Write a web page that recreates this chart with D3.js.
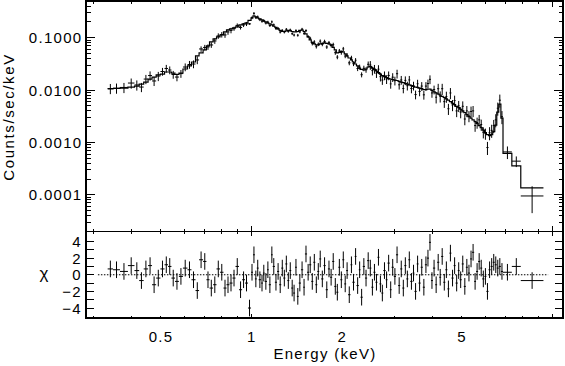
<!DOCTYPE html>
<html>
<head>
<meta charset="utf-8">
<script src="https://cdn.jsdelivr.net/npm/d3@7"></script>
<style>
body { margin: 0; background: #fff; }
text { font-family: "Liberation Sans", Arial, sans-serif; font-size: 15px; fill: #000; letter-spacing: 1.3px; }
</style>
</head>
<body>
<script>
// energy bin edges (keV), one more than the number of bins
var binEdges = [0.334, 0.348, 0.367, 0.390, 0.410, 0.425, 0.440, 0.455, 0.469, 0.484,
  0.500, 0.516, 0.530, 0.544, 0.559, 0.576, 0.594, 0.615, 0.634, 0.654,
  0.672, 0.693, 0.711, 0.728, 0.748, 0.768, 0.789, 0.810, 0.829, 0.848,
  0.868, 0.888, 0.912, 0.934, 0.955, 0.977,
  1.000, 1.015, 1.030, 1.045, 1.060, 1.080, 1.095, 1.110, 1.130, 1.145,
  1.165, 1.180, 1.200, 1.220, 1.240, 1.260, 1.280, 1.300, 1.320, 1.340,
  1.360, 1.380, 1.400, 1.420, 1.440, 1.465, 1.490, 1.510, 1.535, 1.560,
  1.585, 1.610, 1.635, 1.660, 1.685, 1.710, 1.740, 1.770, 1.800, 1.830,
  1.860, 1.890, 1.920, 1.950, 1.980, 2.010, 2.040, 2.070, 2.100, 2.140,
  2.170, 2.210, 2.240, 2.280, 2.310, 2.350, 2.390, 2.430, 2.470, 2.510,
  2.550, 2.590, 2.630, 2.670, 2.710, 2.750, 2.800, 2.840, 2.890, 2.930,
  2.980, 3.030, 3.080, 3.130, 3.180, 3.230, 3.280, 3.330, 3.380, 3.440,
  3.490, 3.550, 3.600, 3.660, 3.720, 3.780, 3.840, 3.900, 3.960, 4.020,
  4.090, 4.150, 4.220, 4.280, 4.350, 4.420, 4.490, 4.560, 4.630, 4.710,
  4.780, 4.860, 4.930, 5.010, 5.090, 5.170, 5.250, 5.340, 5.420, 5.510,
  5.590, 5.680, 5.770, 5.860, 5.960, 6.050, 6.150, 6.250, 6.350, 6.450,
  6.550, 6.650, 6.760, 6.870,
  7.35, 7.87, 9.36];

// observed count rate (counts/sec/keV) per bin
var rate = [0.0107, 0.0109, 0.0112, 0.0136, 0.0125, 0.0114, 0.0162, 0.0189, 0.0149, 0.0185,
  0.0226, 0.0258, 0.0241, 0.0198, 0.0177, 0.0206, 0.0275, 0.0307, 0.0314, 0.0375,
  0.0608, 0.0650, 0.0664, 0.0725, 0.0865, 0.1078, 0.1140, 0.1126, 0.1285, 0.1373,
  0.1480, 0.1711, 0.1567, 0.1749, 0.1828, 0.1830,
  0.240, 0.290, 0.241, 0.249, 0.220, 0.205, 0.211, 0.190, 0.198, 0.170,
  0.200, 0.175, 0.149, 0.150, 0.128, 0.137, 0.128, 0.144, 0.132, 0.140,
  0.119, 0.112, 0.136, 0.111, 0.129, 0.145, 0.120, 0.136, 0.105, 0.097,
  0.0771, 0.0826, 0.0673, 0.0748, 0.0855, 0.0744, 0.0845, 0.0663, 0.0800, 0.0708,
  0.0733, 0.0517, 0.0425, 0.0558, 0.0519, 0.0610, 0.0445, 0.0465, 0.0330, 0.0410,
  0.0318, 0.0370, 0.0258, 0.0275, 0.0196, 0.0260, 0.0243, 0.0310, 0.0300, 0.0235,
  0.0253, 0.0210, 0.0250, 0.0180, 0.0155, 0.0190, 0.0161, 0.0190, 0.0131, 0.0176,
  0.0151, 0.0205, 0.0126, 0.0156, 0.0107, 0.0153, 0.0121, 0.0156, 0.0107, 0.0121,
  0.0082, 0.0132, 0.0094, 0.0119, 0.0081, 0.0119, 0.0133, 0.0160, 0.0088, 0.0102,
  0.0073, 0.0106, 0.0076, 0.0106, 0.0060, 0.0075, 0.0044, 0.0088, 0.0052, 0.0063,
  0.0040, 0.0050, 0.0038, 0.0049, 0.0028, 0.0040, 0.0032, 0.0039, 0.0040, 0.0021,
  0.0024, 0.0027, 0.0022, 0.00157, 0.00148, 0.00080, 0.00153, 0.00170, 0.0021, 0.0027,
  0.0045, 0.0064, 0.0031,
  0.00066, 0.00044, 0.0000953];

// folded model per bin
var model = [0.0105, 0.0107, 0.0109, 0.0114, 0.0119, 0.0130, 0.0142, 0.0162, 0.0177, 0.0194,
  0.0202, 0.0221, 0.0221, 0.0211, 0.0198, 0.0211, 0.0252, 0.0288, 0.0343, 0.0447,
  0.0510, 0.0582, 0.0694, 0.0828, 0.0944, 0.1031, 0.1126, 0.1285, 0.1404, 0.1466,
  0.1533, 0.1602, 0.1749, 0.1828, 0.1910, 0.2133,
  0.238, 0.260, 0.249, 0.238, 0.228, 0.218, 0.209, 0.200, 0.191, 0.183,
  0.175, 0.165, 0.157, 0.147, 0.137, 0.131, 0.131, 0.134, 0.137, 0.136,
  0.131, 0.129, 0.129, 0.131, 0.137, 0.140, 0.131, 0.118, 0.103, 0.0904,
  0.0810, 0.0758, 0.0725, 0.0725, 0.0758, 0.0775, 0.0792, 0.0775, 0.0758, 0.0725,
  0.0650, 0.0582, 0.0510, 0.0521, 0.0545, 0.0533, 0.0488, 0.0447, 0.0409, 0.0375,
  0.0343, 0.0314, 0.0288, 0.0263, 0.0247, 0.0241, 0.0252, 0.0275, 0.0281, 0.0263,
  0.0247, 0.0231, 0.0216, 0.0202, 0.0189, 0.0181, 0.0173, 0.0166, 0.0162, 0.0159,
  0.0155, 0.0152, 0.0147, 0.0142, 0.0138, 0.0133, 0.0130, 0.0125, 0.0121, 0.0118,
  0.0114, 0.0112, 0.0109, 0.0106, 0.0102, 0.0102, 0.0104, 0.0104, 0.0098, 0.0092,
  0.0088, 0.0084, 0.0080, 0.0076, 0.0072, 0.0068, 0.0064, 0.0060, 0.0056, 0.0053,
  0.0049, 0.0046, 0.0043, 0.0040, 0.0037, 0.0034, 0.0031, 0.0029, 0.0027, 0.0025,
  0.0023, 0.0021, 0.00192, 0.00172, 0.00154, 0.00141, 0.00135, 0.00141, 0.00161, 0.00214,
  0.0038, 0.0054, 0.0029,
  0.00062, 0.000357, 0.000136];

// 1-sigma error as a fraction of the rate
var relErr = [0.22, 0.22, 0.22, 0.22, 0.22, 0.20, 0.20, 0.20, 0.20, 0.20,
  0.17, 0.17, 0.17, 0.17, 0.17, 0.17, 0.17, 0.17, 0.17, 0.17,
  0.12, 0.12, 0.12, 0.12, 0.12, 0.12, 0.12, 0.12, 0.12, 0.12,
  0.09, 0.09, 0.09, 0.09, 0.09, 0.04,
  0.06, 0.06, 0.06, 0.06, 0.06, 0.06, 0.06, 0.06, 0.06, 0.06,
  0.06, 0.06, 0.06, 0.06, 0.06, 0.06, 0.06, 0.06, 0.06, 0.06,
  0.06, 0.06, 0.06, 0.06, 0.06, 0.06, 0.06, 0.06, 0.06, 0.07,
  0.08, 0.08, 0.08, 0.08, 0.08, 0.08, 0.08, 0.08, 0.08, 0.08,
  0.09, 0.09, 0.09, 0.09, 0.09, 0.09, 0.09, 0.09, 0.10, 0.10,
  0.10, 0.10, 0.11, 0.11, 0.11, 0.12, 0.12, 0.13, 0.19, 0.19,
  0.19, 0.19, 0.19, 0.19, 0.19, 0.19, 0.19, 0.19, 0.19, 0.19,
  0.19, 0.19, 0.19, 0.19, 0.19, 0.19, 0.19, 0.19, 0.19, 0.19,
  0.19, 0.19, 0.19, 0.19, 0.19, 0.19, 0.19, 0.19, 0.19, 0.19,
  0.24, 0.24, 0.24, 0.24, 0.24, 0.24, 0.24, 0.24, 0.24, 0.24,
  0.24, 0.24, 0.24, 0.24, 0.24, 0.24, 0.24, 0.24, 0.24, 0.24,
  0.24, 0.24, 0.24, 0.24, 0.24, 0.28, 0.28, 0.28, 0.28, 0.28,
  0.28, 0.28, 0.28,
  0.27, 0.23, 0.53];

// residuals (data - model) / sigma
var chi = [0.7, 0.6, 0.4, 1.1, 0.5, -0.7, 0.7, 1.1, -1.2, -0.4,
  0.7, 1.2, 1.0, -0.4, -0.8, -0.2, 0.8, 0.6, -0.6, -1.9,
  1.8, 1.6, -0.6, -1.6, -1.2, 0.7, 0.3, -1.6, -1.2, -1.0,
  -0.4, 1.0, -1.8, -0.6, -1.0, -4.0,
  0.3, 2.4, -0.5, 0.8, -0.6, -1.0, 0.2, -0.8, 0.6, -1.2,
  2.4, 1.0, -0.9, 0.4, -1.2, 0.8, -0.4, 1.3, -0.7, 0.5,
  -1.6, -2.2, 0.9, -2.6, -1.0, 0.6, -1.5, 2.5, 0.3, 1.2,
  -0.8, 1.5, -1.2, 0.4, 1.9, -0.5, 1.1, -1.8, 0.7, -0.3,
  1.6, -1.4, -2.1, 0.9, -0.6, 1.8, -1.1, 0.5, -2.4, 1.2,
  -0.9, 2.2, -1.3, 0.6, -2.7, 1.0, -0.4, 1.7, 0.8, -1.5,
  0.3, -0.9, 2.1, -1.1, -2.2, 0.5, -0.6, 1.4, -1.8, 0.9,
  -0.2, 2.4, -1.3, 0.7, -1.6, 1.1, -0.5, 1.8, -0.8, 0.2,
  -2.0, 1.3, -1.0, 0.9, -1.5, 1.2, 2.0, 3.9, -0.7, 0.8,
  -1.2, 1.5, -0.3, 2.2, -0.9, 0.6, -1.7, 2.6, -0.4, 1.1,
  -1.0, 0.5, -0.6, 1.3, -1.4, 0.9, 0.2, 1.9, 2.7, -0.8,
  0.4, 1.6, 0.8, -0.5, -0.2, -2.0, 0.6, 1.0, 1.5, 1.2,
  0.8, 1.0, 0.4,
  0.3, 1.0, -0.7];

// axis ticks
var xMinorTicks = [0.3, 0.4, 0.5, 0.6, 0.7, 0.8, 0.9, 2, 3, 4, 5, 6, 7, 8, 9];
var xMajorTicks = [1, 10];
var xLabelTicks = [0.5, 1, 2, 5];
var yMajorTicks = [0.0001, 0.001, 0.01, 0.1];
var yTickLabels = ["0.0001", "0.0010", "0.0100", "0.1000"];
var chiTicks = [-4, -3, -2, -1, 0, 1, 2, 3, 4];
var chiLabelTicks = [-4, -2, 0, 2, 4];

var W = 565, H = 366;
var plotLeft = 86, plotRight = 563, plotTop = 1, plotMid = 231.5, plotBottom = 318;

var svg = d3.select("body").append("svg")
    .attr("width", W)
    .attr("height", H);

var x = d3.scaleLog().domain([0.283, 10.87]).range([plotLeft, plotRight]);
var y = d3.scaleLog().domain([2e-5, 0.5]).range([plotMid, plotTop]);
var yChi = d3.scaleLinear().domain([-5.2, 5.2]).range([plotBottom, plotMid]);

var n = Math.min(binEdges.length - 1, rate.length, model.length, relErr.length, chi.length);
var bins = d3.range(n).map(function (i) {
    return {
        lo: binEdges[i], hi: binEdges[i + 1],
        mid: Math.sqrt(binEdges[i] * binEdges[i + 1]),
        rate: rate[i], model: model[i], sig: rate[i] * relErr[i], chi: chi[i]
    };
});

// clip regions for the two panels
var defs = svg.append("defs");
defs.append("clipPath").attr("id", "clipTop").append("rect")
    .attr("x", plotLeft).attr("y", plotTop)
    .attr("width", plotRight - plotLeft).attr("height", plotMid - plotTop);
defs.append("clipPath").attr("id", "clipBot").append("rect")
    .attr("x", plotLeft).attr("y", plotMid)
    .attr("width", plotRight - plotLeft).attr("height", plotBottom - plotMid);

// ---- top panel: model steps + data crosses ----
var gTop = svg.append("g").attr("clip-path", "url(#clipTop)");

var stepPts = bins.map(d => [d.lo, d.model]);
stepPts.push([bins[n - 1].hi, bins[n - 1].model]);
gTop.append("path")
    .datum(stepPts)
    .attr("fill", "none")
    .attr("stroke", "#000")
    .attr("stroke-width", 1.2)
    .attr("d", d3.line().x(d => x(d[0])).y(d => y(d[1])).curve(d3.curveStepAfter));

gTop.selectAll(".hbar")
    .data(bins)
    .enter().append("line")
    .attr("class", "hbar")
    .attr("x1", d => x(d.lo)).attr("x2", d => x(d.hi))
    .attr("y1", d => y(d.rate)).attr("y2", d => y(d.rate))
    .attr("stroke", "#000").attr("stroke-width", 1);

gTop.selectAll(".vbar")
    .data(bins)
    .enter().append("line")
    .attr("class", "vbar")
    .attr("x1", d => x(d.mid)).attr("x2", d => x(d.mid))
    .attr("y1", d => y(Math.max(d.rate - d.sig, 2e-5)))
    .attr("y2", d => y(d.rate + d.sig))
    .attr("stroke", "#000").attr("stroke-width", 1);

// ---- bottom panel: residuals ----
var gBot = svg.append("g").attr("clip-path", "url(#clipBot)");

gBot.append("line")
    .attr("x1", x(0.31)).attr("x2", x(9.7))
    .attr("y1", yChi(0)).attr("y2", yChi(0))
    .attr("stroke", "#000").attr("stroke-width", 1)
    .attr("stroke-dasharray", "1.5,1.5");

gBot.selectAll(".rh")
    .data(bins)
    .enter().append("line")
    .attr("x1", d => x(d.lo)).attr("x2", d => x(d.hi))
    .attr("y1", d => yChi(d.chi)).attr("y2", d => yChi(d.chi))
    .attr("stroke", "#000").attr("stroke-width", 1);

gBot.selectAll(".rv")
    .data(bins)
    .enter().append("line")
    .attr("x1", d => x(d.mid)).attr("x2", d => x(d.mid))
    .attr("y1", d => yChi(d.chi - 1)).attr("y2", d => yChi(d.chi + 1))
    .attr("stroke", "#000").attr("stroke-width", 1);

// ---- frames and ticks ----
var axes = svg.append("g")
    .attr("stroke", "#000")
    .attr("shape-rendering", "crispEdges");

axes.append("rect")
    .attr("x", plotLeft).attr("y", plotTop)
    .attr("width", plotRight - plotLeft).attr("height", plotMid - plotTop)
    .attr("fill", "none").attr("stroke-width", 1.3);
axes.append("rect")
    .attr("x", plotLeft).attr("y", plotMid)
    .attr("width", plotRight - plotLeft).attr("height", plotBottom - plotMid)
    .attr("fill", "none").attr("stroke-width", 1.3);

function xTicks(values, yPos, dir, len) {
    axes.selectAll(null)
        .data(values)
        .enter().append("line")
        .attr("x1", d => x(d)).attr("x2", d => x(d))
        .attr("y1", yPos).attr("y2", yPos + dir * len);
}
function yTicksAt(values, scale, len) {
    axes.selectAll(null)
        .data(values)
        .enter().append("line")
        .attr("x1", plotLeft).attr("x2", plotLeft + len)
        .attr("y1", d => scale(d)).attr("y2", d => scale(d));
    axes.selectAll(null)
        .data(values)
        .enter().append("line")
        .attr("x1", plotRight).attr("x2", plotRight - len)
        .attr("y1", d => scale(d)).attr("y2", d => scale(d));
}

// top panel x ticks
xTicks(xMinorTicks, plotTop, 1, 3);
xTicks(xMajorTicks, plotTop, 1, 6);
xTicks(xMinorTicks, plotMid, -1, 3);
xTicks(xMajorTicks, plotMid, -1, 6);
// bottom panel x ticks
xTicks(xMinorTicks, plotMid, 1, 2.5);
xTicks(xMajorTicks, plotMid, 1, 4);
xTicks(xMinorTicks, plotBottom, -1, 2.5);
xTicks(xMajorTicks, plotBottom, -1, 4);

// log minor ticks on the count-rate axis
var yMinorTicks = [];
[1e-5, 1e-4, 1e-3, 1e-2, 1e-1].forEach(function (dec) {
    for (var m = 2; m <= 9; m++) {
        var v = dec * m;
        if (v > 2e-5 && v < 0.5) yMinorTicks.push(v);
    }
});
yTicksAt(yMinorTicks, y, 4.5);
yTicksAt(yMajorTicks, y, 9);
yTicksAt(chiTicks, yChi, 8);

// ---- labels ----
svg.selectAll(".ylab")
    .data(yMajorTicks)
    .enter().append("text")
    .attr("x", 82.5)
    .attr("y", d => y(d) + 5.5)
    .attr("text-anchor", "end")
    .text((d, i) => yTickLabels[i]);

svg.selectAll(".chilab")
    .data(chiLabelTicks)
    .enter().append("text")
    .attr("x", 82)
    .attr("y", d => yChi(d) + 5.5)
    .attr("text-anchor", "end")
    .text(d => d < 0 ? "\u2212" + Math.abs(d) : String(d));

svg.selectAll(".xlab")
    .data(xLabelTicks)
    .enter().append("text")
    .attr("x", d => x(d) + 0.7)
    .attr("y", 341.5)
    .attr("text-anchor", "middle")
    .text(d => String(d));

svg.append("text")
    .attr("x", 325).attr("y", 359)
    .attr("text-anchor", "middle")
    .text("Energy (keV)");

svg.append("text")
    .attr("transform", "translate(13.5,117) rotate(-90)")
    .attr("text-anchor", "middle")
    .style("letter-spacing", "1.6px")
    .text("Counts/sec/keV");

svg.append("text")
    .attr("x", 44).attr("y", 279)
    .attr("text-anchor", "middle")
    .style("font-size", "17px")
    .style("letter-spacing", "0px")
    .text("\u03c7");
</script>
</body>
</html>
